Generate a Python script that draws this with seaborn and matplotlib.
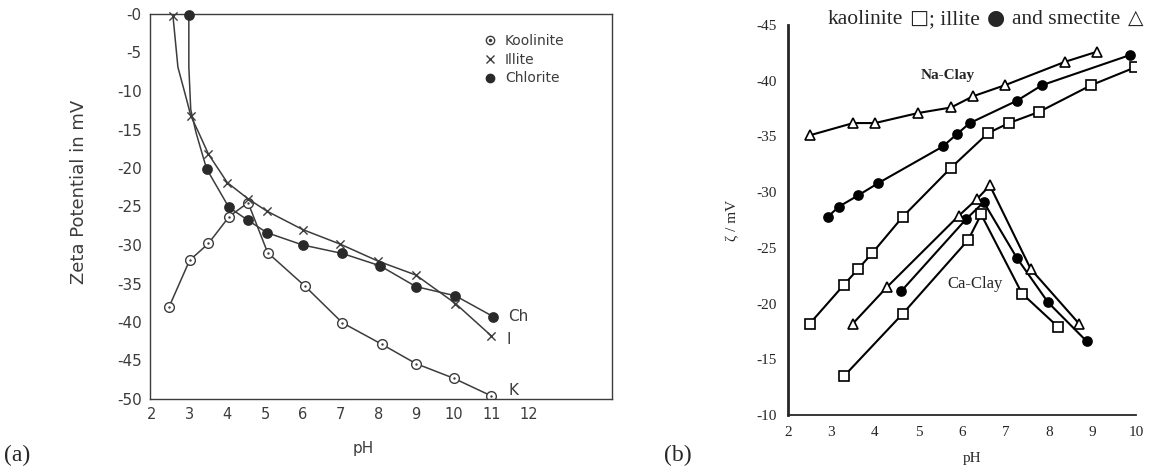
import numpy as np
import pandas as pd
import matplotlib
matplotlib.use('Agg')
import matplotlib.pyplot as plt
from matplotlib.lines import Line2D
from matplotlib.legend_handler import HandlerTuple
import seaborn as sns

sns.set_style('white')
plt.rcParams['font.family'] = ['DejaVu Sans']

# ---- panel (a): zeta potential vs pH ----
ph_kao = [2.45, 3.0, 3.5, 4.05, 4.55, 5.07, 6.05, 7.05, 8.1, 9.0, 10.0, 11.0]
zeta_kao = [-38.1, -32.0, -29.8, -26.3, -24.5, -31.0, -35.3, -40.1, -42.9, -45.4, -47.3, -49.6]

ph_ill = [2.56, 3.03, 3.5, 4.0, 4.55, 5.05, 6.0, 7.0, 8.0, 9.0, 10.05, 11.0]
zeta_ill = [-0.3, -13.2, -18.2, -21.9, -24.0, -25.6, -28.0, -29.9, -32.1, -33.9, -37.6, -41.8]
# extra points traced along the steep part of the drawn curve (no markers)
ph_ill_trace = [2.69, 2.92, 3.24]
zeta_ill_trace = [-6.9, -11.1, -15.4]

ph_chl = [2.98, 3.45, 4.04, 4.55, 5.05, 6.0, 7.05, 8.05, 9.0, 10.05, 11.05]
zeta_chl = [-0.1, -20.1, -25.1, -26.8, -28.4, -30.0, -31.1, -32.7, -35.4, -36.6, -39.3]
ph_chl_trace = [2.98, 3.03, 3.17]
zeta_chl_trace = [-6.9, -12.4, -15.4]

yticks_a = [0, -5, -10, -15, -20, -25, -30, -35, -40, -45, -50]
xticks_a = [2, 3, 4, 5, 6, 7, 8, 9, 10, 11, 12]

# ---- panel (b): Na- and Ca-clay ----
na_kao_ph = [2.5, 3.29, 3.61, 3.93, 4.64, 5.75, 6.6, 7.08, 7.77, 8.97, 9.98]
na_kao_z = [-18.2, -21.7, -23.1, -24.5, -27.8, -32.2, -35.3, -36.2, -37.2, -39.6, -41.2]
na_ill_ph = [2.92, 3.17, 3.61, 4.07, 5.56, 5.88, 6.18, 7.26, 7.84, 9.86]
na_ill_z = [-27.8, -28.7, -29.7, -30.8, -34.1, -35.2, -36.2, -38.2, -39.6, -42.3]
na_sme_ph = [2.5, 3.5, 4.0, 4.99, 5.75, 6.25, 6.99, 8.37, 9.1]
na_sme_z = [-35.1, -36.2, -36.2, -37.1, -37.6, -38.6, -39.6, -41.7, -42.6]

ca_kao_ph = [3.29, 4.64, 6.14, 6.44, 7.38, 8.21]
ca_kao_z = [-13.5, -19.1, -25.7, -28.0, -20.9, -17.9]
ca_ill_ph = [4.6, 6.1, 6.5, 7.26, 7.98, 8.87]
ca_ill_z = [-21.1, -27.6, -29.1, -24.1, -20.1, -16.6]
ca_sme_ph = [3.49, 4.28, 5.93, 6.35, 6.64, 7.58, 8.69]
ca_sme_z = [-18.2, -21.5, -27.9, -29.4, -30.6, -23.1, -18.2]

yticks_b = [-45, -40, -35, -30, -25, -20, -15, -10]
xticks_b = [2, 3, 4, 5, 6, 7, 8, 9, 10]


def curve(ph, z, ph_extra=(), z_extra=()):
    df = pd.DataFrame({'pH': list(ph) + list(ph_extra), 'zeta': list(z) + list(z_extra)})
    return df.sort_values('zeta', ascending=False)


fig = plt.figure(figsize=(11.62, 4.71), dpi=100)

gray = '#3c3c3c'
ax1 = fig.add_axes([150 / 1162, 1 - 399 / 471, 462 / 1162, 385 / 471])

sns.lineplot(x=ph_kao, y=zeta_kao, ax=ax1, color=gray, lw=1.1, sort=False, estimator=None,
             marker='o', markersize=7, markerfacecolor='white',
             markeredgecolor=gray, markeredgewidth=1.0)
sns.scatterplot(x=ph_kao, y=zeta_kao, ax=ax1, color=gray, s=3, linewidth=0, zorder=5)

d = curve(ph_ill, zeta_ill, ph_ill_trace, zeta_ill_trace)
sns.lineplot(data=d, x='pH', y='zeta', ax=ax1, color=gray, lw=1.1, sort=False, estimator=None)
sns.scatterplot(x=ph_ill, y=zeta_ill, ax=ax1, marker='x', color=gray, s=35, linewidth=1.0,
                zorder=5, clip_on=False)

d = curve(ph_chl, zeta_chl, ph_chl_trace, zeta_chl_trace)
sns.lineplot(data=d, x='pH', y='zeta', ax=ax1, color=gray, lw=1.1, sort=False, estimator=None)
sns.scatterplot(x=ph_chl, y=zeta_chl, ax=ax1, color='#2a2a2a', s=60, linewidth=0,
                zorder=5, clip_on=False)

ax1.set_xlim(1.95, 14.2)
ax1.set_ylim(-50, 0)
ax1.set_xticks(xticks_a)
ax1.set_xticklabels([str(t) for t in xticks_a], fontsize=10.5, color=gray)
ax1.set_yticks(yticks_a)
ax1.set_yticklabels(['-' + str(abs(t)) for t in yticks_a], fontsize=11, color=gray)
ax1.tick_params(axis='y', direction='out', length=4, width=0.8, color=gray, pad=2)
ax1.tick_params(axis='x', direction='in', length=4, width=0.8, color=gray, pad=6)
for s in ax1.spines.values():
    s.set_color(gray)
    s.set_linewidth(1.0)
ax1.set_xlabel('pH', fontsize=11, color=gray)
ax1.xaxis.set_label_coords((363 - 150) / 462, -0.11)
ax1.set_ylabel('Zeta Potential in mV', fontsize=13, color=gray)
ax1.yaxis.set_label_coords(-0.135, (399 - 192) / 385)

ax1.text(11.45, -39.3, 'Ch', fontsize=11, color=gray, va='center')
ax1.text(11.4, -42.3, 'I', fontsize=11, color=gray, va='center')
ax1.text(11.45, -48.9, 'K', fontsize=11, color=gray, va='center')

h_k = (Line2D([], [], ls='none', marker='o', ms=6, mfc='white', mec=gray),
       Line2D([], [], ls='none', marker='.', ms=3, color=gray))
h_i = Line2D([], [], ls='none', marker='x', ms=6, mec=gray)
h_c = Line2D([], [], ls='none', marker='o', ms=6, color='#2a2a2a')
ax1.legend([h_k, h_i, h_c], ['Koolinite', 'Illite', 'Chlorite'],
           handler_map={tuple: HandlerTuple(ndivide=1)},
           loc='upper left', bbox_to_anchor=(0.705, 0.967), frameon=False,
           fontsize=10, handlelength=1.0, handletextpad=0.6, labelspacing=0.35,
           borderpad=0, labelcolor=gray)

# ---- panel (b) ----
serif = ['Liberation Serif', 'DejaVu Serif', 'DejaVu Sans']
ax2 = fig.add_axes([788 / 1162, 1 - 415 / 471, 348 / 1162, 390 / 471])

series_b = [
    (na_kao_ph, na_kao_z, 's', 'white'),
    (na_ill_ph, na_ill_z, 'o', 'black'),
    (na_sme_ph, na_sme_z, '^', 'white'),
    (ca_kao_ph, ca_kao_z, 's', 'white'),
    (ca_ill_ph, ca_ill_z, 'o', 'black'),
    (ca_sme_ph, ca_sme_z, '^', 'white'),
]
for ph, z, mk, fc in series_b:
    sns.lineplot(x=ph, y=z, ax=ax2, sort=False, estimator=None, color='black', lw=1.5,
                 marker=mk, markersize=7 if mk != 'o' else 6.5,
                 markerfacecolor=fc, markeredgecolor='black', markeredgewidth=1.2)

ax2.set_xlim(2, 10)
ax2.set_ylim(-10, -45)
sns.despine(ax=ax2)
ax2.spines['left'].set_linewidth(2.0)
ax2.spines['bottom'].set_linewidth(1.3)
ax2.set_xticks(xticks_b)
ax2.set_xticklabels([str(t) for t in xticks_b], fontsize=11, family=serif)
ax2.set_yticks(yticks_b)
ax2.set_yticklabels(['-' + str(abs(t)) for t in yticks_b], fontsize=11, family=serif)
ax2.tick_params(direction='out', length=5, width=1.2, color='black', pad=3)
ax2.set_xlabel('pH', fontsize=11, family=serif)
ax2.xaxis.set_label_coords((972 - 788) / 348, -0.095)
ax2.set_ylabel('ζ / mV', fontsize=11, family=serif)
ax2.yaxis.set_label_coords(-0.14, (415 - 220) / 390)

ax2.text(5.68, -40.5, 'Na-Clay', fontsize=11, family=serif, weight='bold', ha='center', va='center')
ax2.text(6.3, -21.8, 'Ca-Clay', fontsize=12, family=serif, ha='center', va='center')

# header line, placed piece by piece so the symbols can use a font that has them
pieces = [('kaolinite', serif, 15.5, 6), ('□', ['DejaVu Sans'], 14.5, 1),
          ('; illite', serif, 15.5, 7), ('●', ['DejaVu Sans'], 15, 7),
          ('and smectite', serif, 15.5, 7), ('△', ['DejaVu Sans'], 14.5, 0)]
renderer = fig.canvas.get_renderer()
x0 = 828
for txt, fam, fs, gap in pieces:
    t = fig.text(x0 / 1162, 1 - 24 / 471, txt, fontsize=fs, family=fam,
                 va='baseline', ha='left')
    x0 += t.get_window_extent(renderer).width + gap

fig.text(4 / 1162, 1 - 455 / 471, '(a)', fontsize=17, family=serif, va='center')
fig.text(664 / 1162, 1 - 455 / 471, '(b)', fontsize=17, family=serif, va='center')

fig.savefig('out.png', dpi=100)
